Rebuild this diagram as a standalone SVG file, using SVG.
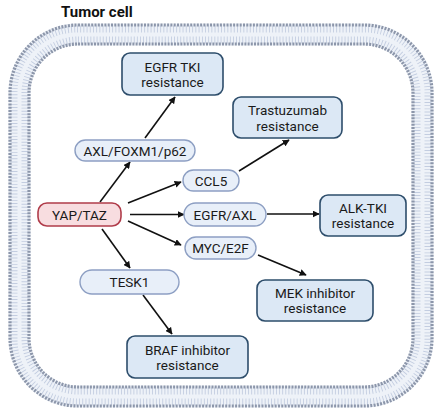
<svg xmlns="http://www.w3.org/2000/svg" width="442" height="416" viewBox="0 0 442 416">
<defs>
<marker id="ah" viewBox="0 0 10 10" refX="9" refY="5" markerWidth="7" markerHeight="7" markerUnits="userSpaceOnUse" orient="auto">
<path d="M0,0 L10,5 L0,10 z" fill="#111"/>
</marker>
<style>
.box{fill:#dce8f5;stroke:#2d4d6b;stroke-width:1.6}
.pill{fill:#e8eff9;stroke:#8d9fc3;stroke-width:1.4}
.yap{fill:#f8dde0;stroke:#b03c4a;stroke-width:1.6}
.t{font-family:Roboto,"Liberation Sans",sans-serif;font-size:13.5px;fill:#1a1a1a;text-anchor:middle}
.c line{stroke:#111;stroke-width:1.6;marker-end:url(#ah)}
</style>
</defs>
<rect width="442" height="416" fill="#fff"/>
<g id="membrane" fill="none">
<rect x="19.5" y="34.5" width="403" height="362" rx="58" stroke="#eef2f8" stroke-width="22"/>
<rect x="14" y="29" width="414" height="373" rx="63" stroke="#c3cde0" stroke-width="7" stroke-dasharray="0.9 2.3"/>
<rect x="25" y="40" width="392" height="351" rx="53" stroke="#c3cde0" stroke-width="7" stroke-dasharray="0.9 2.2"/>
<rect x="10" y="25" width="422" height="381" rx="68" stroke="#8c96aa" stroke-width="3.2" stroke-dasharray="2 1.3"/>
<rect x="29" y="44" width="384" height="343" rx="49" stroke="#8c96aa" stroke-width="3.2" stroke-dasharray="2 1.2"/>
</g>
<text x="61" y="17" style="font-family:Roboto,'Liberation Sans',sans-serif;font-weight:bold;font-size:15px;fill:#111">Tumor cell</text>
<g id="connectors" class="c">
<line x1="145" y1="138" x2="175" y2="97"/>
<line x1="100" y1="202" x2="130" y2="162"/>
<line x1="128" y1="203" x2="181" y2="182"/>
<line x1="239" y1="171" x2="289" y2="140"/>
<line x1="130" y1="214.5" x2="184" y2="214.5"/>
<line x1="128" y1="221" x2="181" y2="245"/>
<line x1="267" y1="214" x2="319" y2="214"/>
<line x1="258" y1="255" x2="306" y2="275"/>
<line x1="102" y1="229" x2="130" y2="268"/>
<line x1="143" y1="295" x2="172" y2="334"/>
</g>
<g id="egfr-tki"><rect class="box" x="122" y="53" width="101" height="42" rx="8"/><text class="t" x="172.5" y="71.5">EGFR TKI</text><text class="t" x="172.5" y="87">resistance</text></g>
<g id="trastuzumab"><rect class="box" x="233" y="97" width="109" height="41" rx="8"/><text class="t" x="287.5" y="115">Trastuzumab</text><text class="t" x="287.5" y="130.5">resistance</text></g>
<g id="axl-foxm1-p62"><rect class="pill" x="75" y="140" width="120" height="21" rx="10.5"/><text class="t" x="135" y="155.5">AXL/FOXM1/p62</text></g>
<g id="ccl5"><rect class="pill" x="183" y="170" width="56" height="21" rx="10.5"/><text class="t" x="211" y="185.5">CCL5</text></g>
<g id="yap-taz"><rect class="yap" x="38" y="203" width="83" height="23" rx="9"/><text class="t" x="79.5" y="219.5">YAP/TAZ</text></g>
<g id="egfr-axl"><rect class="pill" x="184" y="203" width="82" height="23" rx="11.5"/><text class="t" x="225" y="219.5">EGFR/AXL</text></g>
<g id="myc-e2f"><rect class="pill" x="185" y="237" width="71" height="22" rx="11"/><text class="t" x="220.5" y="253">MYC/E2F</text></g>
<g id="alk-tki"><rect class="box" x="320" y="195" width="86" height="41" rx="8"/><text class="t" x="363" y="212.5">ALK-TKI</text><text class="t" x="363" y="228">resistance</text></g>
<g id="mek"><rect class="box" x="257" y="280" width="116" height="41" rx="8"/><text class="t" x="315" y="297.5">MEK inhibitor</text><text class="t" x="315" y="313">resistance</text></g>
<g id="tesk1"><rect class="pill" x="80" y="270" width="99" height="24" rx="12"/><text class="t" x="129.5" y="287">TESK1</text></g>
<g id="braf"><rect class="box" x="127" y="336" width="121" height="42" rx="8"/><text class="t" x="187.5" y="354.5">BRAF inhibitor</text><text class="t" x="187.5" y="370">resistance</text></g>
</svg>
